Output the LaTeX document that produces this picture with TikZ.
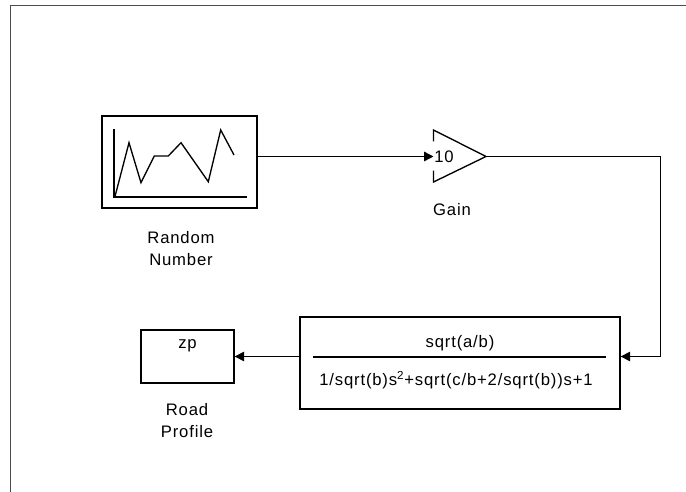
\documentclass[tikz,border=0pt]{standalone}
\usepackage{fontspec}
\setmainfont[LetterSpace=5]{Liberation Sans}
\usetikzlibrary{arrows.meta}

\tikzset{
  blk/.style={draw, line width=1pt, inner sep=0pt},
  sig/.style={line width=1pt, -{Triangle[length=7pt,width=7pt]}},
  lbl/.style={font=\fontsize{12.5}{16.5}\selectfont, align=center, inner sep=0pt},
}

\begin{document}
\begin{tikzpicture}[x=0.75pt, y=-0.75pt]
\useasboundingbox (0,0) rectangle (686,492);
% window frame
\draw [line width=1.1pt, black!70] (10.5,492) -- (10.5,5.5) -- (686,5.5);

% random number source
\node [blk, minimum width=116.25pt, minimum height=69pt] (rnd) at (179.5,162) {};
\draw [line width=1pt] (114,129) -- (114,197) -- (247,197);
\draw [line width=1pt] (115,196.5) -- (129,142.7) -- (141,182.7) -- (154.3,156) -- (168.3,156)
  -- (181,142.7) -- (208.3,181.7) -- (220.7,130) -- (234,155);
\node [lbl] (rndlbl) at (181,249) {Random\\Number};

% gain
\coordinate (gainin) at (433.5,156.5);
\coordinate (gainout) at (486,156.5);
\draw [line width=1pt] (433.5,141.5) -- (433.5,130) -- (gainout) -- (433.5,182) -- (433.5,170.5);
\node [lbl] (gainval) at (444,156.5) {10};
\node [lbl] (gainlbl) at (452,210) {Gain};

% transfer function
\node [blk, minimum width=240pt, minimum height=69pt] (tf) at (460,363) {};
\node [lbl] (num) at (460,343) {sqrt(a/b)};
\node [lbl] (den) at (456,380) {1/sqrt(b)s\textsuperscript{2}+sqrt(c/b+2/sqrt(b))s+1};
\draw [line width=1pt] (313,357) -- (606,357);

% output
\node [blk, minimum width=69.75pt, minimum height=39.75pt] (zp) at (187.5,356.5) {};
\node [lbl] (zptxt) at (187.5,346) {zp};
\node [lbl] (zplbl) at (187,421) {Road\\Profile};

\coordinate (turn) at (660.5,156.5);
\draw [sig] (rnd.east |- gainin) -- (gainin);
\draw [sig] (gainout) -- (turn) |- (tf.east |- zp.east);
\draw [sig] (tf.west |- zp.east) -- (zp.east);
\end{tikzpicture}
\end{document}
